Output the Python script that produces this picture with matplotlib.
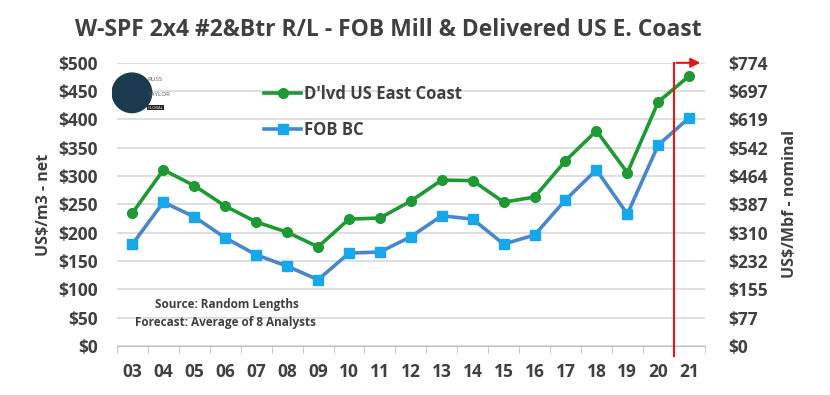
import matplotlib.pyplot as plt
from matplotlib.patches import Circle, FancyArrowPatch

plt.rcParams['font.family'] = ['Open Sans', 'DejaVu Sans']

years = ['03', '04', '05', '06', '07', '08', '09', '10', '11', '12',
         '13', '14', '15', '16', '17', '18', '19', '20', '21']
delivered = [235, 311, 283, 247, 219, 201, 175, 224, 226, 256,
             293, 292, 254, 263, 327, 380, 306, 431, 477]
fob_bc = [180, 254, 228, 191, 161, 141, 117, 164, 166, 193,
          230, 224, 180, 196, 258, 311, 233, 355, 403]
left_ticks = [0, 50, 100, 150, 200, 250, 300, 350, 400, 450, 500]
right_labels = ['$0', '$77', '$155', '$232', '$310', '$387', '$464',
                '$542', '$619', '$697', '$774']

txt = '#404040'
fig = plt.figure(figsize=(8.3, 3.95), dpi=100)
ax = fig.add_axes([0.141, 0.124, 0.708, 0.717])
x = list(range(len(years)))

ax.plot(x, delivered, color='#1e9934', lw=2.6, marker='o', ms=7,
        mfc='#1e9934', mec='#1e9934', label="D'lvd US East Coast", zorder=3)
ax.plot(x, fob_bc, color='#4a86c8', lw=2.6, marker='s', ms=7,
        mfc='#17a8ec', mec='#17a8ec', label='FOB BC', zorder=3)

ax.set_xlim(-0.5, len(years) - 0.5)
ax.set_ylim(0, 500)
ax.set_yticks(left_ticks)
ax.set_yticklabels(['$%d' % v for v in left_ticks])
ax.set_xticks(x)
ax.set_xticklabels(years)
ax.set_xticks([i - 0.5 for i in range(len(years) + 1)], minor=True)
ax.tick_params(axis='x', which='major', length=0, pad=12)
ax.tick_params(axis='x', which='minor', length=5, color='#bfbfbf')
ax.tick_params(axis='y', length=0, pad=14)
for lab in ax.get_xticklabels() + ax.get_yticklabels():
    lab.set_fontsize(12.5)
    lab.set_fontweight('bold')
    lab.set_color(txt)
ax.grid(axis='y', color='#d9d9d9', lw=1.2)
ax.set_axisbelow(True)
for s in ['top', 'left', 'right']:
    ax.spines[s].set_visible(False)
ax.spines['bottom'].set_color('#bfbfbf')
ax.set_ylabel('US$/m3 - net', fontsize=11.5, color=txt, labelpad=4,
              fontweight='bold')

ax2 = ax.twinx()
ax2.set_ylim(0, 500)
ax2.set_yticks(left_ticks)
ax2.set_yticklabels(right_labels, fontsize=12.5, fontweight='bold', color=txt)
ax2.tick_params(axis='y', length=0, pad=17)
for s in ax2.spines.values():
    s.set_visible(False)
ax2.set_ylabel('US$/Mbf - nominal', fontsize=11.5, color=txt, labelpad=10,
               fontweight='bold')

leg = ax.legend(loc='upper left', bbox_to_anchor=(0.225, 0.975), frameon=False,
                fontsize=12, handlelength=2.2, labelspacing=1.1, handletextpad=0.2)
for t in leg.get_texts():
    t.set_color(txt)
    t.set_fontweight('bold')

ax.text(0.065, 0.135, 'Source: Random Lengths', transform=ax.transAxes,
        fontsize=8.5, color=txt, fontweight='bold')
ax.text(0.03, 0.07, 'Forecast: Average of 8 Analysts', transform=ax.transAxes,
        fontsize=8.5, color=txt, fontweight='bold')

# forecast marker
ax.plot([17.5, 17.5], [-18, 500], color='#e8141a', lw=1.5, clip_on=False, zorder=4)
arr = FancyArrowPatch((17.5, 500), (18.45, 500), arrowstyle='-|>', mutation_scale=14,
                      color='#e8141a', lw=1.5, clip_on=False, zorder=4)
ax.add_patch(arr)

# logo
lax = fig.add_axes([0.133, 0.70, 0.09, 0.13])
lax.set_xlim(0, 1.8)
lax.set_ylim(0, 1.3)
lax.set_aspect('equal')
lax.axis('off')
lax.add_patch(Circle((0.5, 0.65), 0.5, color='#1b3a4f'))
lax.text(0.9, 0.95, 'RUSS', fontsize=4.5, color='#555555')
lax.text(0.9, 0.58, 'TAYLOR', fontsize=4.5, color='#555555')
lax.text(0.9, 0.25, 'GLOBAL', fontsize=3, color='white',
         bbox=dict(facecolor='#222222', edgecolor='none', pad=0.5))

fig.suptitle('W-SPF 2x4 #2&Btr R/L - FOB Mill & Delivered US E. Coast',
             x=0.468, y=0.955, fontsize=16.5, fontweight='bold', color=txt)

fig.savefig('out.png', dpi=100, facecolor='white')
